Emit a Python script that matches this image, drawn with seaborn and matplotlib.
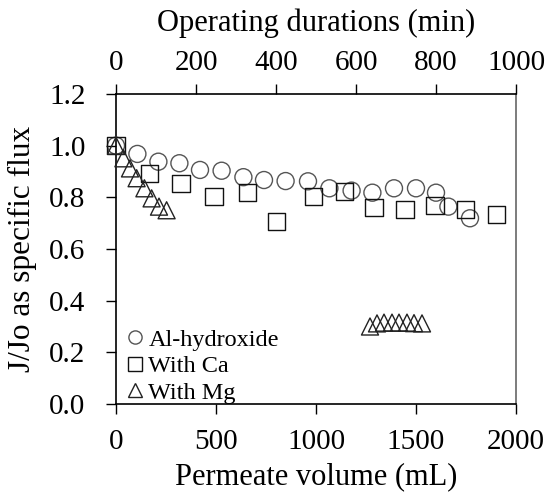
import numpy as np
import pandas as pd
import matplotlib
matplotlib.use("Agg")
import matplotlib.pyplot as plt
import seaborn as sns

# ---- data ----
al_x = [0, 107, 212, 317, 420, 528, 637, 740, 848, 960, 1067, 1178, 1282, 1390, 1500, 1600, 1662, 1770]
al_y = [1.0, 0.968, 0.938, 0.932, 0.906, 0.903, 0.878, 0.867, 0.863, 0.862, 0.835, 0.826, 0.818, 0.835, 0.835, 0.818, 0.764, 0.719]

ca_x = [0, 167, 325, 490, 657, 803, 988, 1142, 1290, 1445, 1595, 1748, 1903]
ca_y = [1.0, 0.893, 0.852, 0.803, 0.818, 0.706, 0.803, 0.822, 0.759, 0.751, 0.769, 0.751, 0.733]

mg1_x = [0, 37, 70, 103, 142, 178, 215, 253]
mg1_y = [1.0, 0.951, 0.912, 0.874, 0.835, 0.796, 0.764, 0.750]
mg2_x = [1270, 1305, 1340, 1380, 1415, 1455, 1490, 1530]
mg2_y = [0.300, 0.312, 0.315, 0.315, 0.315, 0.315, 0.313, 0.312]

series_names = ["Al-hydroxide", "With Ca", "With Mg"]
x_ticks = [0, 500, 1000, 1500, 2000]
y_ticks = [0.0, 0.2, 0.4, 0.6, 0.8, 1.0, 1.2]
top_ticks = [0, 200, 400, 600, 800, 1000]

sns.set_style("ticks")
plt.rcParams["font.family"] = ["Liberation Serif", "DejaVu Serif"]
plt.rcParams["text.color"] = "black"
plt.rcParams["axes.labelcolor"] = "black"
plt.rcParams["mathtext.fontset"] = "stix"

fig = plt.figure(figsize=(5.49, 4.95), dpi=100)
ax = fig.add_axes([116/549, 91/495, 400/549, 310/495])

df = pd.concat([
    pd.DataFrame({"x": al_x, "y": al_y, "s": series_names[0]}),
    pd.DataFrame({"x": ca_x, "y": ca_y, "s": series_names[1]}),
    pd.DataFrame({"x": mg1_x + mg2_x, "y": mg1_y + mg2_y, "s": series_names[2]}),
], ignore_index=True)

styles = {
    series_names[0]: dict(marker="o", ec="#555555"),
    series_names[1]: dict(marker="s", ec="#111111"),
    series_names[2]: dict(marker="^", ec="#222222"),
}
handles = []
for name in series_names:
    sub = df[df["s"] == name]
    st = styles[name]
    sns.scatterplot(data=sub, x="x", y="y", ax=ax, marker=st["marker"], s=150,
                    fc="none", ec=st["ec"], linewidth=1.0, clip_on=False, zorder=3,
                    legend=False)
    h = plt.Line2D([], [], ls="none", marker=st["marker"], ms=9.5, mfc="none",
                   mec=st["ec"], mew=1.0, label=name)
    handles.append(h)

ax.set_xlim(0, 2000)
ax.set_ylim(0, 1.2)
ax.set_xticks(x_ticks)
ax.set_yticks(y_ticks)
ax.set_yticklabels([f"{v:.1f}" for v in y_ticks])
ax.tick_params(axis="both", direction="out", length=7, width=1, labelsize=21,
               color="black", labelcolor="black")
ax.tick_params(axis="y", pad=15)
ax.tick_params(axis="x", pad=11)
ax.set_xlabel("Permeate volume (mL)", fontsize=22, labelpad=5, color="black")
ax.set_ylabel("J/Jo as specific flux", fontsize=22.5, labelpad=9, color="black")
for sp in ax.spines.values():
    sp.set_visible(True)
    sp.set_color("black")
    sp.set_linewidth(1.2)
ax.spines["right"].set_color("#666666")

ax2 = ax.twiny()
ax2.set_xlim(0, 1000)
ax2.set_xticks(top_ticks)
ax2.tick_params(axis="x", direction="out", length=7, width=1, labelsize=21, pad=6,
                color="black", labelcolor="black")
ax2.set_xlabel("Operating durations (min)", fontsize=22, labelpad=14, color="black")
for sp in ax2.spines.values():
    sp.set_visible(False)

leg = ax.legend(handles=handles, loc="lower left", frameon=False, fontsize=17.5,
                handletextpad=0.0, handlelength=1.1, labelspacing=0.18,
                borderaxespad=0.0, bbox_to_anchor=(-0.01, -0.03))
for t in leg.get_texts():
    t.set_color("black")

fig.savefig("out.png", dpi=100)
